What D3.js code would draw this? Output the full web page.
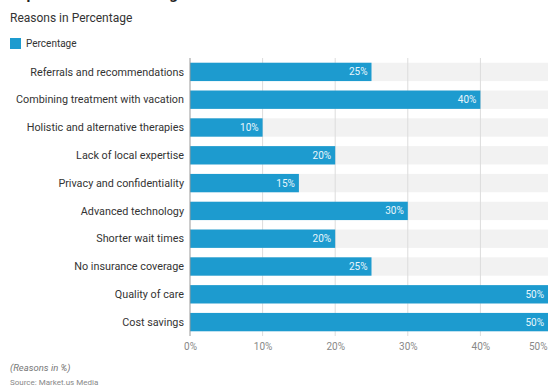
<!DOCTYPE html>
<html>
<head>
<meta charset="utf-8">
<script src="https://cdn.jsdelivr.net/npm/d3@7"></script>
<style>
  body { margin: 0; background: #fff; }
  svg { font-family: Roboto, "Open Sans", sans-serif; }
</style>
</head>
<body>
<svg id="chart" width="548" height="392"></svg>
<script>
var categories = ["Referrals and recommendations", "Combining treatment with vacation",
    "Holistic and alternative therapies", "Lack of local expertise",
    "Privacy and confidentiality", "Advanced technology", "Shorter wait times",
    "No insurance coverage", "Quality of care", "Cost savings"];
var values = [25, 40, 10, 20, 15, 30, 20, 25, 50, 50];
var tickValues = [0, 10, 20, 30, 40, 50];
var seriesName = "Percentage";

var barColor = "#1d9bcf";
var svg = d3.select("#chart");

// x: 0% sits at 190, 50% runs past the window edge
var x = d3.scaleLinear().domain([0, 50]).range([190, 553]);
var y = d3.scaleBand().domain(categories).range([58, 336]).paddingInner(0.34).paddingOuter(0.17);

// title (mostly cut off at the top)
svg.append("text")
    .attr("x", 10).attr("y", -1)
    .style("font-size", "15px").style("font-weight", "bold").style("fill", "#222")
    .text("Top Reasons for Seeking Medical Treatment Abroad");

svg.append("text")
    .attr("x", 10).attr("y", 22)
    .style("font-size", "12px").style("fill", "#333")
    .text("Reasons in Percentage");

// legend
svg.append("rect").attr("x", 10).attr("y", 38).attr("width", 11).attr("height", 11).attr("fill", barColor);
svg.append("text")
    .attr("x", 26).attr("y", 47)
    .style("font-size", "10px").style("fill", "#333")
    .text(seriesName);

// grey tracks
svg.append("g").selectAll("rect")
    .data(categories)
    .enter().append("rect")
    .attr("x", x(0))
    .attr("y", d => y(d))
    .attr("width", 548 - x(0))
    .attr("height", y.bandwidth())
    .attr("fill", "#f2f2f2");

// vertical gridlines
svg.append("g").selectAll("line")
    .data(tickValues.slice(1))
    .enter().append("line")
    .attr("x1", d => x(d)).attr("x2", d => x(d))
    .attr("y1", 58).attr("y2", 336)
    .style("stroke", "#dcdcdc").style("stroke-width", 1);

// bars
svg.append("g").selectAll("rect")
    .data(values)
    .enter().append("rect")
    .attr("x", x(0))
    .attr("y", (d, i) => y(categories[i]))
    .attr("width", d => x(d) - x(0))
    .attr("height", y.bandwidth())
    .attr("fill", barColor);

// value labels
svg.append("g").selectAll("text")
    .data(values)
    .enter().append("text")
    .attr("x", d => Math.min(x(d), 548) - 4)
    .attr("y", (d, i) => y(categories[i]) + y.bandwidth() / 2)
    .attr("dy", "0.35em")
    .attr("text-anchor", "end")
    .style("font-size", "10px").style("fill", "#e8f6fc")
    .text(d => d + "%");

// zero axis line
svg.append("line")
    .attr("x1", x(0)).attr("x2", x(0))
    .attr("y1", 58).attr("y2", 336)
    .style("stroke", "#999").style("stroke-width", 1);

// category labels
svg.append("g").selectAll("text")
    .data(categories)
    .enter().append("text")
    .attr("x", x(0) - 6)
    .attr("y", d => y(d) + y.bandwidth() / 2)
    .attr("dy", "0.35em")
    .attr("text-anchor", "end")
    .style("font-size", "10.8px").style("fill", "#333")
    .text(d => d);

// x axis
var xAxis = svg.append("g")
    .attr("transform", "translate(0,336)")
    .call(d3.axisBottom(x).tickValues(tickValues).tickFormat(d => d + "%").tickSize(0).tickPadding(7));
xAxis.select(".domain").remove();
xAxis.selectAll("text").style("font-size", "10px").style("fill", "#888").style("font-family", "Roboto, sans-serif");
// last tick label is pushed inside the right edge
xAxis.selectAll(".tick").filter(d => d === 50).select("text")
    .attr("text-anchor", "end").attr("x", 548 - x(50) - 1);

// footer
svg.append("text")
    .attr("x", 10).attr("y", 371)
    .style("font-size", "9.5px").style("font-style", "italic").style("fill", "#777")
    .text("(Reasons in %)");
svg.append("text")
    .attr("x", 10).attr("y", 385)
    .style("font-size", "8px").style("fill", "#888")
    .text("Source: Market.us Media");
</script>
</body>
</html>
